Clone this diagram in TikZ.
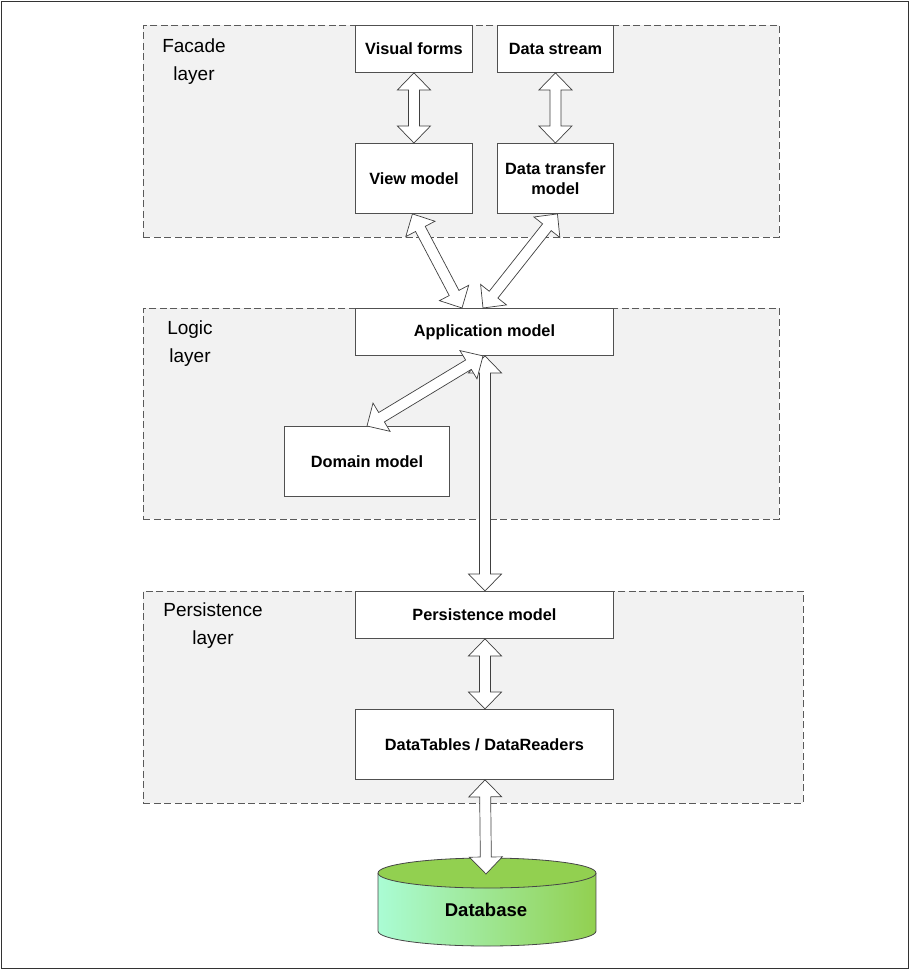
\documentclass[tikz,border=0pt]{standalone}
\usepackage{fontspec}
\setmainfont{Liberation Sans}
\usetikzlibrary{calc}
\definecolor{layerfill}{RGB}{242,242,242}
\definecolor{dashgray}{RGB}{90,90,90}
\definecolor{boxgray}{RGB}{80,80,80}
\definecolor{arrowgray}{RGB}{64,64,64}
\definecolor{dbleft}{RGB}{170,252,212}
\definecolor{dbright}{RGB}{146,208,80}
\definecolor{dbtopc}{RGB}{146,208,80}
\definecolor{dbline}{RGB}{70,70,70}
\newcommand\arrhl{17pt}
\newcommand\arrhw{16.5pt}
\newcommand\arrsw{5.5pt}
\newcommand\dbla[2]{%
\draw[blockarrow] (#1)
 -- ($(#1)!\arrhl!(#2)!\arrhw!90:(#2)$)
 -- ($(#1)!\arrhl!(#2)!\arrsw!90:(#2)$)
 -- ($(#2)!\arrhl!(#1)!\arrsw!-90:(#1)$)
 -- ($(#2)!\arrhl!(#1)!\arrhw!-90:(#1)$)
 -- (#2)
 -- ($(#2)!\arrhl!(#1)!\arrhw!90:(#1)$)
 -- ($(#2)!\arrhl!(#1)!\arrsw!90:(#1)$)
 -- ($(#1)!\arrhl!(#2)!\arrsw!-90:(#2)$)
 -- ($(#1)!\arrhl!(#2)!\arrhw!-90:(#2)$)
 -- cycle;}
\begin{document}
\begin{tikzpicture}[x=1pt,y=-1pt,
  layer/.style={draw=dashgray, fill=layerfill, line width=0.8pt, dash pattern=on 7pt off 3.5pt, anchor=north west, inner sep=0pt},
  box/.style={draw=boxgray, fill=white, line width=0.9pt, font=\bfseries\fontsize{16.3}{19.5}\selectfont, align=center, inner sep=0pt, anchor=north west},
  lbl/.style={font=\fontsize{19}{28}\selectfont, align=center},
  blockarrow/.style={draw=arrowgray, fill=white, line width=0.7pt, line join=miter}]

\useasboundingbox (0,0) rectangle (910,970);
\draw[draw=black!80, line width=0.9pt] (1,1) rectangle (908,968);

% layers
\node[layer, minimum width=636pt, minimum height=212pt] (facade) at (143,25) {};
\node[layer, minimum width=636pt, minimum height=211pt] (logic) at (143,308) {};
\node[layer, minimum width=660pt, minimum height=212pt] (persist) at (143,591) {};

\node[lbl] (facadelbl) at (194,62) {Facade\\layer};
\node[lbl] (logiclbl) at (190,344) {Logic\\layer};
\node[lbl] (persistlbl) at (213,626) {Persistence\\layer};

% boxes
\node[box, minimum width=117pt, minimum height=47pt] (vf) at (355,25) {Visual forms};
\node[box, minimum width=116pt, minimum height=47pt] (ds) at (497,25) {Data stream};
\node[box, minimum width=117pt, minimum height=70pt] (vm) at (355,143) {View model};
\node[box, minimum width=116pt, minimum height=70pt] (dtm) at (497,143) {Data transfer\\model};
\node[box, minimum width=258pt, minimum height=47pt] (app) at (355,308) {Application model};
\node[box, minimum width=165pt, minimum height=70pt] (dom) at (284,426) {Domain model};
\node[box, minimum width=258pt, minimum height=47pt] (pm) at (355,591) {Persistence model};
\node[box, minimum width=258pt, minimum height=70pt] (dt) at (355,709) {DataTables / DataReaders};

% database
\path[left color=dbleft, right color=dbright] (378,873) -- (378,931)
  arc[start angle=180, end angle=360, x radius=109pt, y radius=15pt] -- (596,873) -- cycle;
\draw[dbline, line width=0.8pt] (378,873) -- (378,931)
  arc[start angle=180, end angle=360, x radius=109pt, y radius=15pt] -- (596,873);
\draw[draw=dbline, fill=dbtopc, line width=0.8pt] (487,873) ellipse [x radius=109pt, y radius=15pt];
\node[font=\bfseries\fontsize{18.5}{22}\selectfont] (db) at (486,910) {Database};
\coordinate (dbtop) at (486,874);

% arrow endpoints
\coordinate (a3s) at ($(vm.south)+(-1.5,0)$);
\coordinate (a3e) at ($(app.north west)+(107,0)$);
\coordinate (a4s) at ($(dtm.south)+(2,0)$);
\coordinate (a4e) at ($(app.north west)+(128,0)$);
\coordinate (a5s) at ($(app.south west)+(128,0)$);
\coordinate (a5e) at ($(dom.north west)+(83,0)$);
\coordinate (a6s) at ($(app.south west)+(130,0)$);
\coordinate (a6e) at ($(pm.north west)+(130,0)$);
\coordinate (a7s) at ($(pm.south west)+(130,0)$);
\coordinate (a7e) at ($(dt.north west)+(130,0)$);
\coordinate (a8s) at ($(dt.south west)+(130,0)$);

\dbla{vf.south}{vm.north}
\dbla{ds.south}{dtm.north}
\dbla{a3s}{a3e}
\dbla{a4s}{a4e}
\dbla{a6s}{a6e}
\dbla{a5s}{a5e}
\dbla{a7s}{a7e}
\dbla{a8s}{dbtop}
\end{tikzpicture}
\end{document}
